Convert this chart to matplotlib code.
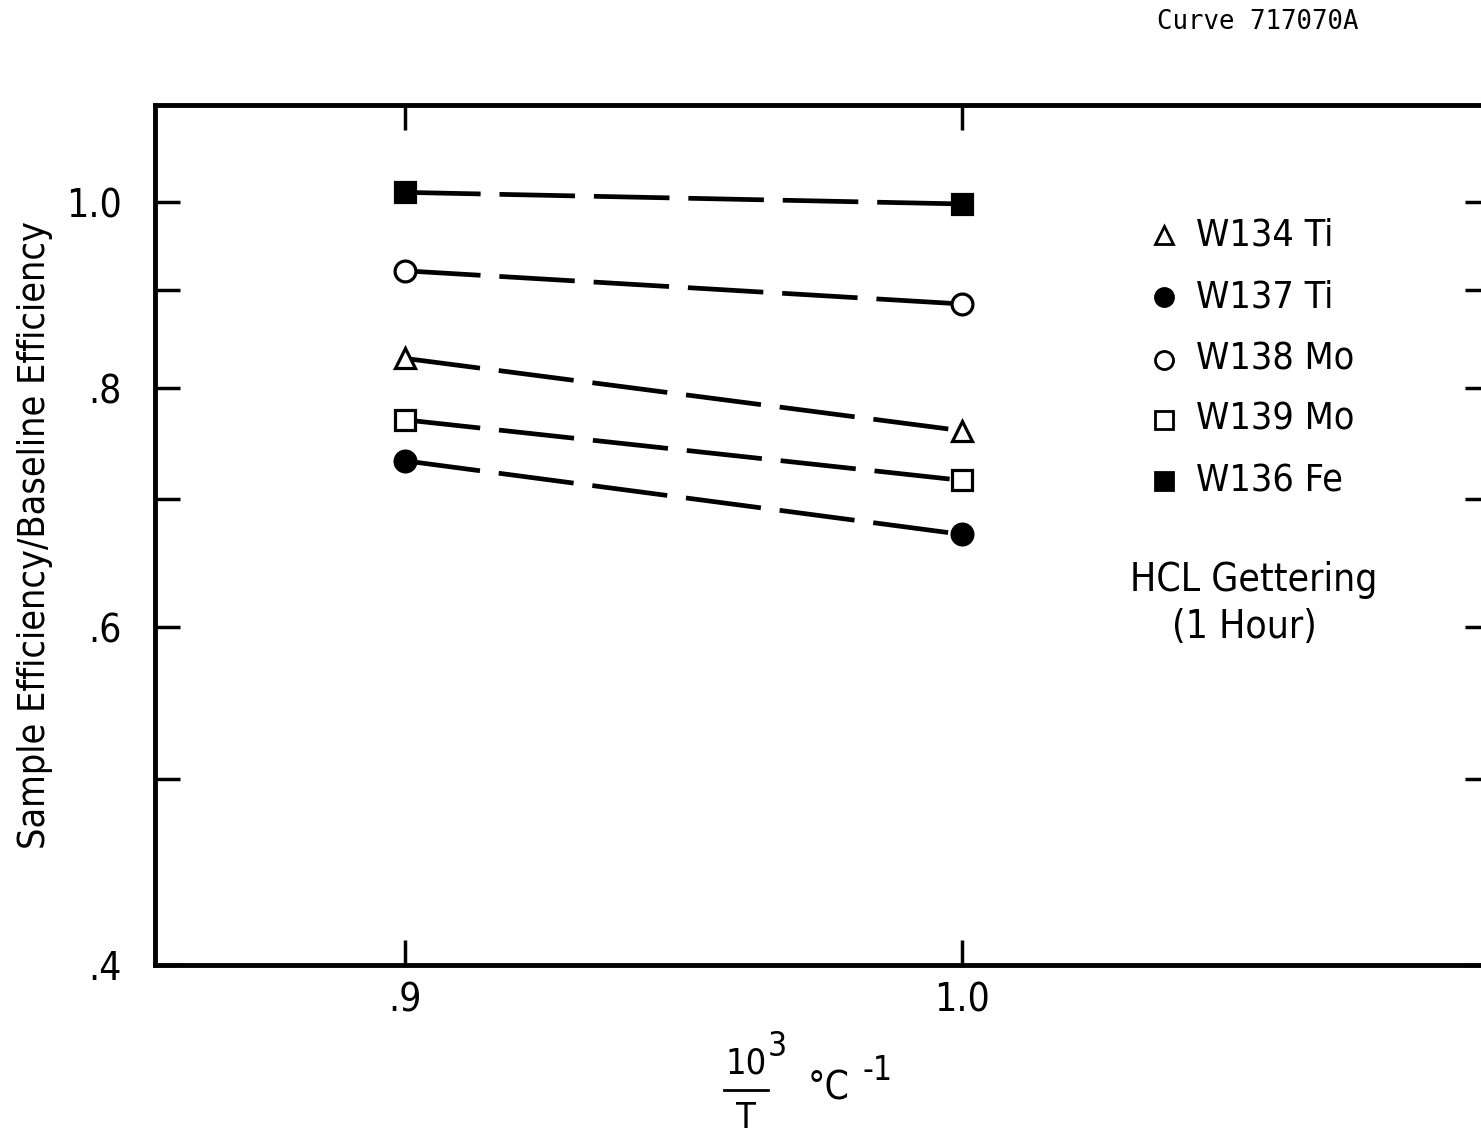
import matplotlib
matplotlib.use("Agg")
import matplotlib.pyplot as plt
from matplotlib.lines import Line2D

# ---- data ----
x_vals = [0.9, 1.0]
series_names = ["W134 Ti", "W137 Ti", "W138 Mo", "W139 Mo", "W136 Fe"]
w134_ti = [0.829, 0.760]
w137_ti = [0.733, 0.671]
w138_mo = [0.921, 0.885]
w139_mo = [0.770, 0.716]
w136_fe = [1.012, 0.998]
y_major = [0.4, 0.6, 0.8, 1.0]
y_major_labels = [".4", ".6", ".8", "1.0"]
y_minor = [0.5, 0.7, 0.9]
x_ticks = [0.9, 1.0]
x_tick_labels = [".9", "1.0"]

plt.rcParams["font.family"] = ["DejaVu Sans"]
plt.rcParams["font.stretch"] = "condensed"

W, H = 1481, 1137
fig = plt.figure(figsize=(W / 100, H / 100), dpi=100)
left, right, bottom, top = 155 / W, 1490 / W, 1 - 965 / H, 1 - 105 / H
ax = fig.add_axes([left, bottom, right - left, top - bottom])

ax.set_yscale("log")
ax.set_xlim(0.8551, 1.0948)
ax.set_ylim(0.4, 1.124)

styles = [
    (w134_ti, "^", "white"),
    (w137_ti, "o", "black"),
    (w138_mo, "o", "white"),
    (w139_mo, "s", "white"),
    (w136_fe, "s", "black"),
]
for vals, m, fc in styles:
    ax.plot(x_vals, vals, color="black", lw=3.4, dashes=(16, 4),
            marker=m, markersize=15, markerfacecolor=fc,
            markeredgecolor="black", markeredgewidth=2.3, zorder=3)

ax.set_yticks(y_major)
ax.set_yticklabels(y_major_labels)
ax.set_yticks(y_minor, minor=True)
ax.set_yticklabels([""] * len(y_minor), minor=True)
ax.set_xticks(x_ticks)
ax.set_xticklabels(x_tick_labels)
ax.xaxis.set_minor_locator(matplotlib.ticker.NullLocator())

for s in ax.spines.values():
    s.set_linewidth(3.5)

ax.tick_params(axis="both", which="both", direction="in", length=18, width=2.5,
               top=True, right=True, labelsize=28)
ax.tick_params(axis="y", which="both", pad=24)
ax.tick_params(axis="x", which="both", pad=12)

ax.set_ylabel("Sample Efficiency/Baseline Efficiency", fontsize=27)
ax.yaxis.set_label_coords(-102 / (1490 - 155), 0.5)

# legend (manual)
legend_y = [235, 297, 360, 420, 481]
for (vals, m, fc), name, py in zip(styles, series_names, legend_y):
    fig.add_artist(Line2D([1164 / W], [1 - py / H], marker=m, markersize=13,
                          markerfacecolor=fc, markeredgecolor="black",
                          markeredgewidth=2, linestyle="none"))
    fig.text(1196 / W, 1 - py / H, name, fontsize=27, ha="left", va="center")

fig.text(1254 / W, 1 - 580 / H, "HCL Gettering", fontsize=28, ha="center", va="center")
fig.text(1244 / W, 1 - 627 / H, "(1 Hour)", fontsize=28, ha="center", va="center")

fig.text(1258 / W, 1 - 22 / H, "Curve 717070A", fontsize=18.5, ha="center", va="center",
         family="DejaVu Sans Mono", stretch="normal")

# x-axis label: 10^3 / T  °C^-1
fig.text(746 / W, 1 - 1064 / H, "10", fontsize=26, ha="center", va="center")
fig.text(777 / W, 1 - 1046 / H, "3", fontsize=24, ha="center", va="center")
fig.add_artist(Line2D([724 / W, 768 / W], [1 - 1090 / H, 1 - 1090 / H], color="black", lw=2))
fig.text(746 / W, 1 - 1118 / H, "T", fontsize=26, ha="center", va="center")
fig.text(829 / W, 1 - 1088 / H, "°C", fontsize=28, ha="center", va="center")
fig.text(878 / W, 1 - 1070 / H, "-1", fontsize=24, ha="center", va="center")

fig.savefig("out.png", dpi=100)
